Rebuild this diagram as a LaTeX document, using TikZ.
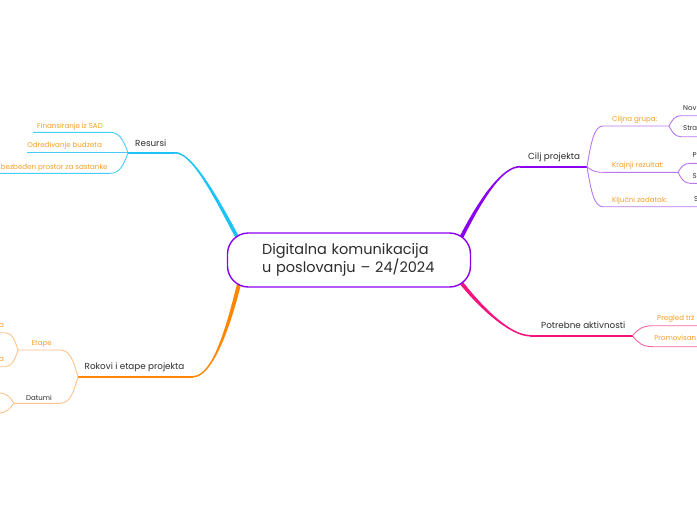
\documentclass[tikz,border=0pt]{standalone}
\usepackage{fontspec}
\setmainfont{Poppins}
\usetikzlibrary{calc}
\definecolor{cyanB}{RGB}{30,195,245}
\definecolor{cyanL}{RGB}{70,205,248}
\definecolor{purpB}{RGB}{140,0,240}
\definecolor{purpL}{RGB}{185,120,240}
\definecolor{pinkB}{RGB}{245,20,125}
\definecolor{pinkL}{RGB}{248,100,165}
\definecolor{oranB}{RGB}{255,135,0}
\definecolor{oranL}{RGB}{255,195,140}
\definecolor{oranT}{RGB}{245,160,40}
\definecolor{darkT}{RGB}{45,45,45}
\newcommand\taper[7]{%
  \fill[#1] ($(#2)+(#6,0)$) .. controls ($(#3)+(#6,0)$) and ($(#4)+(0,#7)$) .. ($(#5)+(0,#7)$)
    -- ($(#5)-(0,#7)$) .. controls ($(#4)-(0,#7)$) and ($(#3)-(#6,0)$) .. ($(#2)-(#6,0)$) -- cycle;}
\tikzset{
  lab/.style={font=\fontsize{8.8}{10}\selectfont, text=darkT, inner sep=0},
  sublab/.style={font=\fontsize{7.1}{8}\selectfont, text=oranT, inner sep=0},
  leaflab/.style={font=\fontsize{7}{8}\selectfont, text=darkT, inner sep=0},
  mainbox/.style={draw=purpB, line width=1.4pt, fill=white, rounded corners=21pt,
    minimum width=243pt, minimum height=54pt, inner xsep=0pt, text width=174pt, align=left,
    font=\fontsize{14.5}{18.5}\selectfont, text=darkT},
  cyanline/.style={draw=cyanL, line width=0.9pt},
  purpline/.style={draw=purpL, line width=0.9pt},
  pinkline/.style={draw=pinkL, line width=0.9pt},
  oranline/.style={draw=oranL, line width=0.9pt},
}
\begin{document}
\begin{tikzpicture}[x=1pt,y=-1pt]
\useasboundingbox (0,0) rectangle (697,520);
\fill[white] (0,0) rectangle (697,520);
\clip (0,0) rectangle (697,520);

% ---------- coordinates ----------
% Resursi
\coordinate (rC) at (239.5,241.5); \coordinate (rP1) at (215,195); \coordinate (rP2) at (192,152.7); \coordinate (rH) at (175,152.7);
\coordinate (rS) at (128,152.7);
% Cilj
\coordinate (cC) at (459,242); \coordinate (cP1) at (482,196); \coordinate (cP2) at (503,166.7); \coordinate (cH) at (520,166.7);
\coordinate (cS) at (587,166.7);
% Potrebne
\coordinate (pC) at (459,280); \coordinate (pP1) at (480,307); \coordinate (pP2) at (510,335.7); \coordinate (pH) at (530,335.7);
\coordinate (pS) at (632.5,335.7);
% Rokovi
\coordinate (kC) at (240.5,278); \coordinate (kP1) at (228,330); \coordinate (kP2) at (212,376.7); \coordinate (kH) at (193,376.7);
\coordinate (kS) at (78,376.7);

% ---------- main branches ----------
\taper{cyanB}{rC}{rP1}{rP2}{rH}{-2.1}{0.8}
\draw[cyanB, line width=1.6pt] (rH) -- (rS);
\taper{purpB}{cC}{cP1}{cP2}{cH}{-2.1}{-0.8}
\draw[purpB, line width=1.6pt] (cH) -- (cS);
\taper{pinkB}{pC}{pP1}{pP2}{pH}{2.4}{-0.8}
\draw[pinkB, line width=1.6pt] (pH) -- (pS);
\taper{oranB}{kC}{kP1}{kP2}{kH}{2.1}{0.8}
\draw[oranB, line width=1.6pt] (kH) -- (kS);

% ---------- Resursi children ----------
\coordinate (r1E) at (110,132.3); \coordinate (r1F) at (33,132.3);
\coordinate (r2F) at (27,152.7);
\coordinate (r3E) at (110,173.3); \coordinate (r3F) at (-2,173.3);
\draw[cyanline] (rS) .. controls +(-4.5,-12) and +(10,0) .. (r1E) -- (r1F);
\draw[cyanline] (rS) -- (r2F);
\draw[cyanline] (rS) .. controls +(-4.5,12.5) and +(10,0) .. (r3E) -- (r3F);

% ---------- Cilj children ----------
\coordinate (c1E) at (603,126); \coordinate (c1S) at (669,126);
\coordinate (c11E) at (681,115.7); \coordinate (c11F) at (700,115.7);
\coordinate (c12E) at (681,136.7); \coordinate (c12F) at (700,136.7);
\coordinate (c2E) at (603,172.3); \coordinate (c2S) at (678,172.3);
\coordinate (c21E) at (690,163.3); \coordinate (c21F) at (700,163.3);
\coordinate (c22E) at (690,183.3); \coordinate (c22F) at (700,183.3);
\coordinate (c3E) at (603,206.7); \coordinate (c3F) at (700,206.7);
\draw[purpline] (cS) .. controls +(4,-24) and +(-9,0) .. (c1E) -- (c1S);
\draw[purpline] (c1S) .. controls +(3,-6) and +(-6,0) .. (c11E) -- (c11F);
\draw[purpline] (c1S) .. controls +(3,6) and +(-6,0) .. (c12E) -- (c12F);
\draw[purpline] (cS) .. controls +(4,3.4) and +(-9,0) .. (c2E) -- (c2S);
\draw[purpline] (c2S) .. controls +(3,-5.4) and +(-6,0) .. (c21E) -- (c21F);
\draw[purpline] (c2S) .. controls +(3,6) and +(-6,0) .. (c22E) -- (c22F);
\draw[purpline] (cS) .. controls +(4,24) and +(-9,0) .. (c3E) -- (c3F);

% ---------- Potrebne children ----------
\coordinate (p1E) at (653,325.7); \coordinate (p1F) at (700,325.7);
\coordinate (p2E) at (653,346.7); \coordinate (p2F) at (700,346.7);
\draw[pinkline] (pS) .. controls +(5,-6) and +(-11,0) .. (p1E) -- (p1F);
\draw[pinkline] (pS) .. controls +(5,6.6) and +(-11,0) .. (p2E) -- (p2F);

% ---------- Rokovi children ----------
\coordinate (k1E) at (60,350); \coordinate (k1S) at (18,350);
\coordinate (k11E) at (5,332.7); \coordinate (k11F) at (-2,332.7);
\coordinate (k12E) at (5,366.7); \coordinate (k12F) at (-2,366.7);
\coordinate (k2E) at (60,403.3); \coordinate (k2S) at (14,403.3);
\coordinate (k21E) at (-2,393); \coordinate (k22E) at (-2,413);
\draw[oranline] (kS) .. controls +(-4.5,-16) and +(10,0) .. (k1E) -- (k1S);
\draw[oranline] (k1S) .. controls +(-3.3,-10.4) and +(7,0) .. (k11E) -- (k11F);
\draw[oranline] (k1S) .. controls +(-3.3,10) and +(7,0) .. (k12E) -- (k12F);
\draw[oranline] (kS) .. controls +(-4.5,16) and +(10,0) .. (k2E) -- (k2S);
\draw[oranline] (k2S) .. controls +(-4,-6) and +(9,0) .. (k21E);
\draw[oranline] (k2S) .. controls +(-4,5) and +(9,0) .. (k22E);

% ---------- central node ----------
\node[mainbox] (center) at (349,260) {Digitalna komunikacija\\u poslovanju – 24/2024};

% ---------- labels ----------
\node[lab, anchor=base west] (resursi) at (135,146) {Resursi};
\node[sublab, anchor=base east] (fin) at (103,128) {Finansiranje iz SAD};
\node[sublab, anchor=base east] (odr) at (102,147) {Određivanje budzeta};
\node[sublab, anchor=base west] (obe) at (0.6,169) {bezbeđen prostor za sastanke};

\node[lab, anchor=base west] (cilj) at (528,159) {Cilj projekta};
\node[sublab, anchor=base west] (cgr) at (612,121.5) {Ciljna grupa:};
\node[leaflab, anchor=base west] (nov) at (683,110.5) {Nov};
\node[leaflab, anchor=base west] (stra) at (683,130.5) {Stra};
\node[sublab, anchor=base west] (kraj) at (612,167.5) {Krajnji rezultat:};
\node[leaflab, anchor=base west] (kp) at (692.5,157.5) {P};
\node[leaflab, anchor=base west] (ks) at (692.5,178.3) {S};
\node[sublab, anchor=base west] (klj) at (612,202) {Ključni zadatak:};
\node[leaflab, anchor=base west] (kls) at (694,201.7) {S};

\node[lab, anchor=base west] (potr) at (541,328) {Potrebne aktivnosti};
\node[sublab, anchor=base west] (preg) at (657,320.5) {Pregled trž};
\node[sublab, anchor=base east] (prom) at (696.4,340.5) {Promovisan};

\node[lab, anchor=base west] (rok) at (84.5,369) {Rokovi i etape projekta};
\node[sublab, anchor=base east] (etape) at (52,345) {Etape};
\node[sublab, anchor=base east] (ea1) at (4,327) {a};
\node[sublab, anchor=base east] (ea2) at (4,361.5) {a};
\node[leaflab, anchor=base east] (dat) at (52,400) {Datumi};
\end{tikzpicture}
\end{document}
